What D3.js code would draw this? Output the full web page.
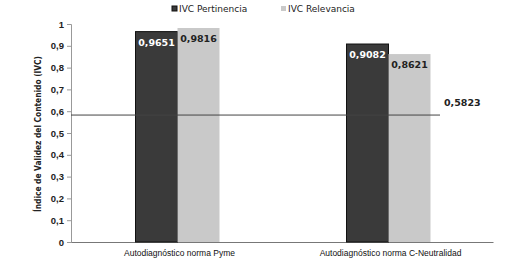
<!DOCTYPE html>
<html>
<head>
<meta charset="utf-8">
<script src="https://cdn.jsdelivr.net/npm/d3@7"></script>
<style>
  body { margin: 0; background: #fff; }
  svg { font-family: "DejaVu Sans", Arial, sans-serif; }
</style>
</head>
<body>
<div id="viz"></div>
<script>
let categories = ["Autodiagnóstico norma Pyme", "Autodiagnóstico norma C-Neutralidad"];
let seriesNames = ["IVC Pertinencia", "IVC Relevancia"];
let pertinencia = [0.9651, 0.9082];
let relevancia = [0.9816, 0.8621];
let threshold = 0.5823;
let yTicks = [0, 0.1, 0.2, 0.3, 0.4, 0.5, 0.6, 0.7, 0.8, 0.9, 1];

let w = 528, h = 275;
let margin = { top: 24, right: 35, bottom: 33, left: 71 };

let svg = d3.select("#viz").append("svg")
  .attr("width", w).attr("height", h);

let fmt = v => String(v).replace(".", ",");

let x0 = d3.scaleBand()
  .domain(categories)
  .range([margin.left, w - margin.right]);

let x1 = d3.scaleBand()
  .domain(seriesNames)
  .range([0, 84]);

let y = d3.scaleLinear()
  .domain([0, 1])
  .range([h - margin.bottom, margin.top]);

let colors = { "IVC Pertinencia": "#3a3a3a", "IVC Relevancia": "#c9c9c9" };

// axes
let yAxis = svg.append("g")
  .attr("transform", "translate(" + margin.left + ",0)")
  .call(d3.axisLeft(y).tickValues(yTicks).tickSize(4).tickFormat(d => fmt(d)));
yAxis.select(".domain").attr("stroke", "#999");
yAxis.selectAll(".tick line").attr("stroke", "#999");
yAxis.selectAll("text").attr("font-size", 9.5).attr("font-weight", "bold").attr("fill", "#222");

let xAxis = svg.append("g")
  .attr("transform", "translate(0," + y(0) + ")")
  .call(d3.axisBottom(x0).tickSize(0).tickSizeOuter(0));
xAxis.select(".domain").attr("stroke", "#777");
xAxis.selectAll("text").attr("font-size", 8.5).attr("dy", "1.3em").attr("fill", "#111")
  .attr("dx", 3);

// bars
let data = [];
categories.forEach((c, i) => {
  data.push({ cat: c, s: seriesNames[0], v: pertinencia[i] });
  data.push({ cat: c, s: seriesNames[1], v: relevancia[i] });
});

let barX = d => x0(d.cat) + x0.bandwidth() / 2 - 41 + x1(d.s);

svg.selectAll("rect.bar").data(data).enter().append("rect")
  .attr("class", "bar")
  .attr("x", barX)
  .attr("y", d => y(d.v))
  .attr("width", x1.bandwidth())
  .attr("height", d => y(0) - y(d.v))
  .attr("fill", d => colors[d.s])
  .attr("stroke", d => d.s === seriesNames[0] ? "#111" : "none")
  .attr("stroke-width", 1);

svg.selectAll("text.val").data(data).enter().append("text")
  .attr("class", "val")
  .attr("x", d => barX(d) + x1.bandwidth() / 2)
  .attr("y", d => y(d.v) + 14)
  .attr("text-anchor", "middle")
  .attr("font-size", 9.5)
  .attr("font-weight", "bold")
  .attr("fill", d => d.s === seriesNames[0] ? "#fff" : "#222")
  .text(d => fmt(d.v));

// threshold line
svg.append("line")
  .attr("x1", margin.left)
  .attr("x2", 440)
  .attr("y1", y(threshold))
  .attr("y2", y(threshold))
  .attr("stroke", "#444")
  .attr("stroke-width", 1);

svg.append("text")
  .attr("x", 444)
  .attr("y", y(threshold) - 9)
  .attr("font-size", 9.5)
  .attr("font-weight", "bold")
  .attr("fill", "#222")
  .text(fmt(threshold));

// y title
svg.append("text")
  .attr("transform", "translate(41,134) rotate(-90)")
  .attr("text-anchor", "middle")
  .attr("font-size", 9.5)
  .attr("font-weight", "bold")
  .attr("fill", "#222")
  .attr("textLength", 156)
  .attr("lengthAdjust", "spacingAndGlyphs")
  .text("Índice de Validez del Contenido (IVC)");

// legend
let legX = [172, 281];
seriesNames.forEach((s, i) => {
  svg.append("rect")
    .attr("x", legX[i]).attr("y", 6)
    .attr("width", 5).attr("height", 5)
    .attr("fill", colors[s])
    .attr("stroke", i === 0 ? "#111" : "none");
  svg.append("text")
    .attr("x", legX[i] + 7).attr("y", 12)
    .attr("font-size", 9)
    .attr("fill", "#222")
    .text(s);
});
</script>
</body>
</html>
